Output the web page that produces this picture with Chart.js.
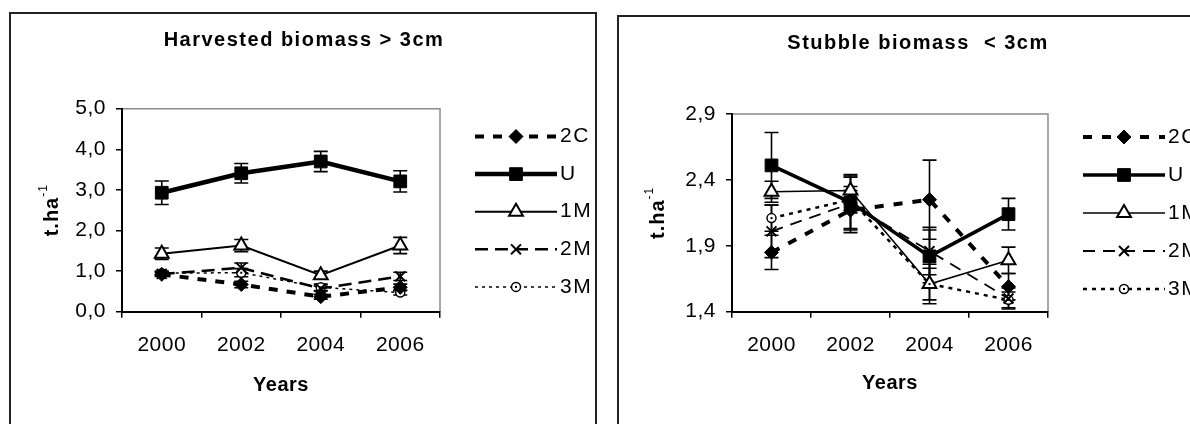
<!DOCTYPE html>
<html>
<head>
<meta charset="utf-8">
<title>Harvested and stubble biomass</title>
<script src="https://cdn.jsdelivr.net/npm/chart.js@4.4.0/dist/chart.umd.min.js"></script>
<style>
    html, body { margin: 0; padding: 0; background: #fff; width: 1190px; height: 424px; overflow: hidden; }
    .box { position: absolute; border: 2px solid #222; box-sizing: border-box; background: #fff; }
    #boxLeft { left: 9px; top: 12px; width: 588px; height: 440px; }
    #boxRight { left: 617px; top: 15px; width: 602px; height: 440px; }
    .box canvas { position: absolute; left: 0; top: 0; }
</style>
</head>
<body>
<div class="box" id="boxLeft"><canvas id="chartLeft" width="584" height="436"></canvas></div>
<div class="box" id="boxRight"><canvas id="chartRight" width="598" height="436"></canvas></div>

<script>
// Dữ liệu
const years = ['2000', '2002', '2004', '2006']
const seriesNames = ['2C', 'U', '1M', '2M', '3M']

// Harvested biomass > 3cm
const harvested2C = [0.92, 0.67, 0.37, 0.60]
const harvestedU = [2.93, 3.41, 3.70, 3.21]
const harvested1M = [1.43, 1.63, 0.90, 1.63]
const harvested2M = [0.93, 1.08, 0.57, 0.87]
const harvested3M = [0.95, 0.96, 0.60, 0.47]
const harvestedErr2C = [0.05, 0.08, 0.06, 0.08]
const harvestedErrU = [0.29, 0.24, 0.25, 0.26]
const harvestedErr1M = [0.14, 0.15, 0.10, 0.20]
const harvestedErr2M = [0.05, 0.12, 0.06, 0.10]
const harvestedErr3M = [0.05, 0.10, 0.08, 0.06]
const harvestedTicks = [0, 1, 2, 3, 4, 5]
const harvestedTickLabels = ['0,0', '1,0', '2,0', '3,0', '4,0', '5,0']

// Stubble biomass < 3cm
const stubble2C = [1.85, 2.17, 2.25, 1.59]
const stubbleU = [2.51, 2.23, 1.82, 2.14]
const stubble1M = [2.31, 2.32, 1.61, 1.79]
const stubble2M = [2.01, 2.22, 1.86, 1.50]
const stubble3M = [2.11, 2.25, 1.61, 1.49]
const stubbleErr2C = [0.13, 0.15, 0.30, 0.10]
const stubbleErrU = [0.25, 0.20, 0.20, 0.12]
const stubbleErr1M = [0.08, 0.10, 0.15, 0.10]
const stubbleErr2M = [0.20, 0.22, 0.18, 0.08]
const stubbleErr3M = [0.10, 0.10, 0.12, 0.06]
const stubbleTicks = [1.4, 1.9, 2.4, 2.9]
const stubbleTickLabels = ['1,4', '1,9', '2,4', '2,9']

// Kiểu đường / điểm cho từng loạt
const leftStyles = {
    '2C': { width: 4, dash: [9, 9], marker: 'rectRot', radius: 7, fill: '#000', mw: 1 },
    'U': { width: 4.5, dash: [], marker: 'rect', radius: 9, fill: '#000', mw: 1 },
    '1M': { width: 2, dash: [], marker: 'triangle', radius: 8, fill: '#fff', mw: 2 },
    '2M': { width: 2.5, dash: [13, 7], marker: 'crossRot', radius: 7, fill: '#fff', mw: 2 },
    '3M': { width: 1.5, dash: [3, 4], marker: 'circle', radius: 4.5, fill: '#fff', mw: 1.5, dot: true }
}
const rightStyles = {
    '2C': { width: 4, dash: [9, 10], marker: 'rectRot', radius: 7, fill: '#000', mw: 1 },
    'U': { width: 3.5, dash: [], marker: 'rect', radius: 9, fill: '#000', mw: 1 },
    '1M': { width: 1.5, dash: [], marker: 'triangle', radius: 8, fill: '#fff', mw: 2 },
    '2M': { width: 1.8, dash: [12, 8], marker: 'crossRot', radius: 7, fill: '#fff', mw: 2 },
    '3M': { width: 2.5, dash: [4, 5], marker: 'circle', radius: 4.5, fill: '#fff', mw: 1.5, dot: true }
}

const FONT = "'Liberation Sans', Arial, sans-serif"
Chart.defaults.font.family = FONT
Chart.defaults.color = '#000'

function makeDataset(label, values, errors, style) {
    return {
        label: label,
        data: values,
        errorBars: errors,
        centerDot: !!style.dot,
        borderColor: '#000',
        backgroundColor: '#000',
        borderWidth: style.width,
        borderDash: style.dash,
        pointStyle: style.marker,
        pointRadius: style.radius,
        pointHoverRadius: style.radius,
        pointBackgroundColor: style.fill,
        pointBorderColor: '#000',
        pointBorderWidth: style.mw,
        tension: 0,
        fill: false
    }
}

// Khung xám phía trên / bên phải vùng vẽ
const frameAndSpacing = {
    id: 'frameAndSpacing',
    beforeDraw(chart) {
        const { ctx, chartArea } = chart
        ctx.letterSpacing = '0.5px'
        ctx.save()
        ctx.strokeStyle = '#8c8c8c'
        ctx.lineWidth = 1.5
        ctx.beginPath()
        ctx.moveTo(chartArea.left, chartArea.top)
        ctx.lineTo(chartArea.right, chartArea.top)
        ctx.lineTo(chartArea.right, chartArea.bottom)
        ctx.stroke()
        ctx.restore()
    }
}

// Thanh sai số (vẽ trước các đường) + chấm giữa của điểm tròn
const errorBars = {
    id: 'errorBars',
    beforeDatasetsDraw(chart) {
        const ctx = chart.ctx
        const yScale = chart.scales.y
        const cap = 7
        ctx.save()
        ctx.strokeStyle = '#000'
        ctx.lineWidth = 1.6
        ctx.setLineDash([])
        chart.data.datasets.forEach((ds, di) => {
            const meta = chart.getDatasetMeta(di)
            meta.data.forEach((pt, i) => {
                const e = ds.errorBars[i]
                const top = yScale.getPixelForValue(ds.data[i] + e)
                const bot = yScale.getPixelForValue(ds.data[i] - e)
                ctx.beginPath()
                ctx.moveTo(pt.x, top)
                ctx.lineTo(pt.x, bot)
                ctx.moveTo(pt.x - cap, top)
                ctx.lineTo(pt.x + cap, top)
                ctx.moveTo(pt.x - cap, bot)
                ctx.lineTo(pt.x + cap, bot)
                ctx.stroke()
            })
        })
        ctx.restore()
    },
    afterDatasetsDraw(chart) {
        const ctx = chart.ctx
        ctx.save()
        ctx.fillStyle = '#000'
        chart.data.datasets.forEach((ds, di) => {
            if (!ds.centerDot) return
            chart.getDatasetMeta(di).data.forEach(pt => {
                ctx.fillRect(pt.x - 1, pt.y - 1, 2, 2)
            })
        })
        ctx.restore()
    }
}

// Tiêu đề, nhãn trục y, chú giải
const texts = {
    id: 'texts',
    afterDraw(chart, args, opts) {
        const { ctx, chartArea } = chart
        ctx.save()
        ctx.fillStyle = '#000'

        // tiêu đề
        ctx.letterSpacing = '1.5px'
        ctx.font = 'bold 20px ' + FONT
        ctx.textAlign = 'center'
        ctx.textBaseline = 'middle'
        ctx.fillText(opts.title, opts.titleX, opts.titleY)

        // nhãn trục y: t.ha-1
        ctx.letterSpacing = '1px'
        ctx.save()
        ctx.translate(opts.yTitleX, (chartArea.top + chartArea.bottom) / 2)
        ctx.rotate(-Math.PI / 2)
        ctx.font = 'bold 20px ' + FONT
        const mainW = ctx.measureText('t.ha').width
        ctx.font = '12px ' + FONT
        const supW = ctx.measureText('-1').width
        const x0 = -(mainW + supW) / 2
        ctx.textAlign = 'left'
        ctx.font = 'bold 20px ' + FONT
        ctx.fillText('t.ha', x0, 0)
        ctx.font = '12px ' + FONT
        ctx.fillText('-1', x0 + mainW, -8)
        ctx.restore()

        // chú giải
        ctx.letterSpacing = '1.5px'
        ctx.font = '21px ' + FONT
        ctx.textAlign = 'left'
        chart.data.datasets.forEach((ds, i) => {
            const y = opts.legendTop + i * opts.legendGap
            const x = chartArea.right
            ctx.save()
            ctx.strokeStyle = '#000'
            ctx.lineWidth = ds.borderWidth
            ctx.setLineDash(ds.borderDash)
            ctx.beginPath()
            ctx.moveTo(x + 35, y)
            ctx.lineTo(x + 117, y)
            ctx.stroke()
            ctx.setLineDash([])
            ctx.fillStyle = ds.pointBackgroundColor
            ctx.lineWidth = ds.pointBorderWidth
            Chart.helpers.drawPoint(ctx, {
                pointStyle: ds.pointStyle,
                radius: ds.pointRadius,
                rotation: 0,
                borderWidth: ds.pointBorderWidth
            }, x + 76, y)
            if (ds.centerDot) {
                ctx.fillStyle = '#000'
                ctx.fillRect(x + 75, y - 1, 2, 2)
            }
            ctx.restore()
            ctx.fillText(ds.label, x + 120, y)
        })
        ctx.restore()
    }
}

function buildChart(spec) {
    const area = spec.area
    const datasets = seriesNames.map((name, i) =>
        makeDataset(name, spec.values[i], spec.errors[i], spec.styles[name]))

    return new Chart(document.getElementById(spec.canvas), {
        type: 'line',
        data: { labels: years, datasets: datasets },
        plugins: [frameAndSpacing, errorBars, texts],
        options: {
            responsive: false,
            animation: false,
            layout: { padding: { left: 0, top: area.top, right: spec.width - area.right, bottom: 0 } },
            plugins: {
                legend: { display: false },
                title: { display: false },
                tooltip: { enabled: false },
                texts: {
                    title: spec.title, titleX: spec.titleX, titleY: spec.titleY,
                    yTitleX: spec.yTitleX, legendTop: spec.legendTop, legendGap: spec.legendGap
                }
            },
            scales: {
                x: {
                    offset: true,
                    grid: { offset: true, drawOnChartArea: false, drawTicks: true, tickLength: 6, color: '#000', lineWidth: 1.5 },
                    border: { display: true, color: '#000', width: 2 },
                    ticks: { font: { size: 21 }, color: '#000', padding: 15, maxRotation: 0, autoSkip: false },
                    title: { display: true, text: 'Years', font: { size: 20, weight: 'bold' }, color: '#000', padding: { bottom: spec.yearsPad } },
                    afterFit: s => { s.height = spec.height - area.bottom }
                },
                y: {
                    min: spec.ticks[0],
                    max: spec.ticks[spec.ticks.length - 1],
                    afterBuildTicks: s => { s.ticks = spec.ticks.map(v => ({ value: v })) },
                    ticks: { callback: (v, i) => spec.tickLabels[i], font: { size: 21 }, color: '#000', padding: 10 },
                    grid: { drawOnChartArea: false, drawTicks: true, tickLength: 6, color: '#000', lineWidth: 1.5 },
                    border: { display: true, color: '#000', width: 2 },
                    afterFit: s => { s.width = area.left }
                }
            }
        }
    })
}

buildChart({
    canvas: 'chartLeft',
    width: 584, height: 436,
    area: { left: 111, right: 429, top: 94.7, bottom: 297.7 },
    title: 'Harvested biomass > 3cm', titleX: 293, titleY: 26,
    yTitleX: 41, yearsPad: 53, legendTop: 122.5, legendGap: 37.6,
    values: [harvested2C, harvestedU, harvested1M, harvested2M, harvested3M],
    errors: [harvestedErr2C, harvestedErrU, harvestedErr1M, harvestedErr2M, harvestedErr3M],
    ticks: harvestedTicks, tickLabels: harvestedTickLabels,
    styles: leftStyles
})

buildChart({
    canvas: 'chartRight',
    width: 598, height: 436,
    area: { left: 113, right: 429, top: 97, bottom: 294.7 },
    title: 'Stubble biomass  < 3cm', titleX: 299, titleY: 26,
    yTitleX: 39, yearsPad: 58, legendTop: 120, legendGap: 38,
    values: [stubble2C, stubbleU, stubble1M, stubble2M, stubble3M],
    errors: [stubbleErr2C, stubbleErrU, stubbleErr1M, stubbleErr2M, stubbleErr3M],
    ticks: stubbleTicks, tickLabels: stubbleTickLabels,
    styles: rightStyles
})
</script>
</body>
</html>
